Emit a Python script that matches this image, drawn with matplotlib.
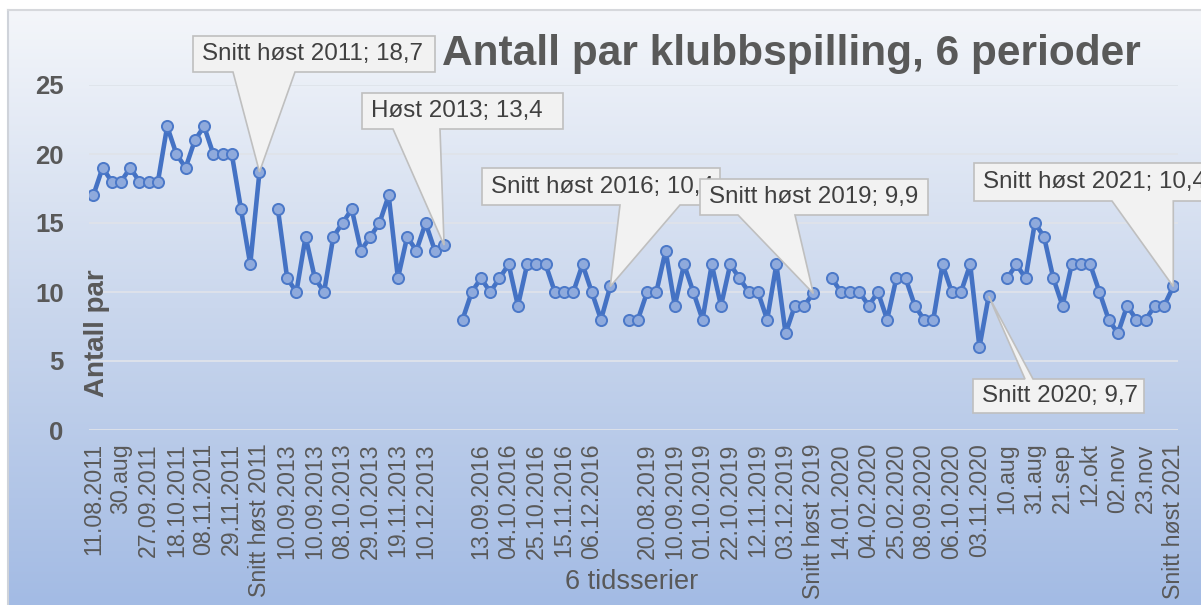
import numpy as np
import matplotlib
matplotlib.use("Agg")
import matplotlib.pyplot as plt
from matplotlib.patches import Polygon

plt.rcParams['font.family'] = ['Liberation Sans', 'DejaVu Sans']

# ---------------- data ----------------
host_2011 = [17, 19, 18, 18, 19, 18, 18, 18, 22, 20, 19, 21, 22, 20, 20, 20, 16, 12, 18.7]
host_2013 = [16, 11, 10, 14, 11, 10, 14, 15, 16, 13, 14, 15, 17, 11, 14, 13, 15, 13, 13.4]
host_2016 = [8, 10, 11, 10, 11, 12, 9, 12, 12, 12, 10, 10, 10, 12, 10, 8, 10.4]
host_2019 = [8, 8, 10, 10, 13, 9, 12, 10, 8, 12, 9, 12, 11, 10, 10, 8, 12, 7, 9, 9, 9.9]
aar_2020 = [11, 10, 10, 10, 9, 10, 8, 11, 11, 9, 8, 8, 12, 10, 10, 12, 6, 9.7]
host_2021 = [11, 12, 11, 15, 14, 11, 9, 12, 12, 12, 10, 8, 7, 9, 8, 8, 9, 9, 10.4]
periods = [host_2011, host_2013, host_2016, host_2019, aar_2020, host_2021]

# every third category label (as shown on the axis)
tick_labels = ["11.08.2011", "30.aug", "27.09.2011", "18.10.2011", "08.11.2011",
               "29.11.2011", "Snitt høst 2011", "10.09.2013", "10.09.2013",
               "08.10.2013", "29.10.2013", "19.11.2013", "10.12.2013", "",
               "13.09.2016", "04.10.2016", "25.10.2016", "15.11.2016", "06.12.2016", "",
               "20.08.2019", "10.09.2019", "01.10.2019", "22.10.2019", "12.11.2019",
               "03.12.2019", "Snitt høst 2019", "14.01.2020", "04.02.2020",
               "25.02.2020", "08.09.2020", "06.10.2020", "03.11.2020", "10.aug",
               "31.aug", "21.sep", "12.okt", "02.nov", "23.nov", "Snitt høst 2021"]

callout_texts = ["Snitt høst 2011; 18,7", "Høst 2013; 13,4", "Snitt høst 2016; 10,4",
                 "Snitt høst 2019; 9,9", "Snitt 2020; 9,7", "Snitt høst 2021; 10,4"]

title = "Antall par klubbspilling, 6 perioder"
ylabel = "Antall par"
xlabel = "6 tidsserier"

# build the full series (gaps between periods)
series = []
last_idx = []
for k, p in enumerate(periods):
    series += p
    last_idx.append(len(series) - 1)
    if k < len(periods) - 1:
        series.append(np.nan)
series = np.array(series, dtype=float)
x = np.arange(len(series))

W, H = 1201, 605
fig = plt.figure(figsize=(W / 100, H / 100), dpi=100)
fig.patch.set_facecolor('white')

def fx(px):
    return px / W

def fy(py):
    return 1 - py / H

# background gradient
bg = fig.add_axes([0, 0, 1, 1], zorder=-10)
bg.set_xlim(0, W)
bg.set_ylim(H, 0)
bg.axis('off')
ys = np.linspace(0, 1, 300)
top = np.array([244, 246, 250]) / 255
mid = np.array([202, 215, 237]) / 255
bot = np.array([163, 187, 228]) / 255
cols = np.where(ys[:, None] < 0.5, top + (mid - top) * (ys[:, None] / 0.5),
                mid + (bot - mid) * ((ys[:, None] - 0.5) / 0.5))
grad = cols[:, None, :]
bg.imshow(grad, extent=(8, W, H, 10), aspect='auto', interpolation='bilinear')
bg.plot([8, 8], [10, H], color='#cfd3da', lw=1.5)
bg.plot([8, W], [10, 10], color='#d6d8dc', lw=1.5)

# main axes
ax = fig.add_axes([fx(88.7), fy(430), fx(1177.9) - fx(88.7), fy(85) - fy(430)])
ax.set_facecolor('none')
for s in ax.spines.values():
    s.set_visible(False)
ax.set_xlim(-0.5, len(series) - 0.5)
ax.set_ylim(0, 25)
ax.set_yticks(np.arange(0, 26, 5))
ax.yaxis.grid(True, color='#dfe3ea', lw=1.3)
ax.set_axisbelow(True)
ax.set_xticks(np.arange(0, len(series), 3))
ax.set_xticklabels(tick_labels, rotation=90, fontsize=16.7, color='#595959')
ax.tick_params(axis='x', length=0, pad=9.5)
ax.tick_params(axis='y', length=0, pad=18, labelsize=18.5, labelcolor='#595959')
for t in ax.get_yticklabels():
    t.set_fontweight('bold')

ax.plot(x, series, '-o', color='#4472C4', lw=3.3, ms=8, mfc='#8FAADC',
        mec='#4B78C8', mew=1.4, zorder=3)

fig.text(fx(97), fy(333), ylabel, rotation=90, ha='center', va='center',
         fontsize=20, fontweight='bold', color='#595959')
fig.text(fx(632), fy(582), xlabel, ha='center', va='center',
         fontsize=19.5, color='#595959')
fig.text(fx(791), fy(65), title, ha='center', va='baseline',
         fontsize=30.5, fontweight='bold', color='#595959')

inv = fig.transFigure.inverted()

def tip_of(i):
    d = ax.transData.transform((i, series[i]))
    return inv.transform(d)

def callout(text, box, w1, w2, idx, side, z):
    L, T, R, B = box
    tx, ty = tip_of(idx)
    if w2 is None:
        w2p = tx
    else:
        w2p = fx(w2)
    if side == 'bottom':
        verts = [(fx(L), fy(T)), (fx(R), fy(T)), (fx(R), fy(B)), (w2p, fy(B)),
                 (tx, ty), (fx(w1), fy(B)), (fx(L), fy(B))]
    else:
        verts = [(fx(L), fy(T)), (fx(w1), fy(T)), (tx, ty), (w2p, fy(T)),
                 (fx(R), fy(T)), (fx(R), fy(B)), (fx(L), fy(B))]
    poly = Polygon(verts, closed=True, transform=fig.transFigure,
                   facecolor='#f2f2f2', edgecolor='#bfbfbf', lw=1.2, zorder=z)
    fig.patches.append(poly)
    fig.text(fx(L + 9), fy((T + B) / 2), text, ha='left', va='center',
             fontsize=17.4, color='#404040', zorder=z + 0.5)

callout(callout_texts[0], (193, 36, 435, 72), 233, 295, last_idx[0], 'bottom', 5)
callout(callout_texts[1], (362, 93, 563, 129), 393, 440, last_idx[1], 'bottom', 5)
callout(callout_texts[2], (482, 168, 720, 205), 620, 680, last_idx[2], 'bottom', 5)
callout(callout_texts[3], (700, 179, 928, 215), 738, 795, last_idx[3], 'bottom', 7)
callout(callout_texts[4], (973, 379, 1144, 413), 1025, 1033, last_idx[4], 'top', 5)
callout(callout_texts[5], (974, 163, 1230, 201), 1112, None, last_idx[5], 'bottom', 5)

fig.savefig('out.png', dpi=100)
